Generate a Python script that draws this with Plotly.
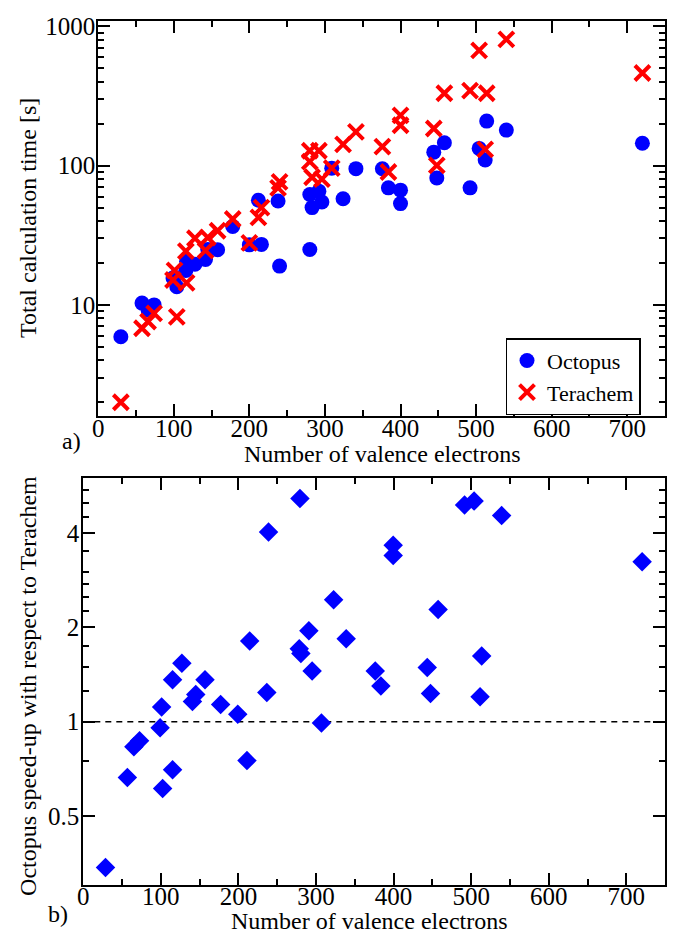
import plotly.graph_objects as go
import math

# ---------------- data ----------------
# Panel a) total calculation time [s] vs number of valence electrons
electrons = [30, 58, 66, 74, 99, 101, 104, 116, 117, 128, 142, 145, 158, 178, 200,
             212, 216, 238, 240, 280, 280, 283, 292, 296, 309, 324, 341, 376, 384,
             400, 400, 444, 448, 458, 492, 504, 512, 514, 540, 720]
octopus_time = [5.9, 10.3, 9.2, 10.0, 15.6, 15.8, 13.5, 17.7, 20.6, 19.6, 21.2, 25.0, 24.9,
                36.6, 27.0, 56.5, 27.2, 55.7, 19.0, 25.0, 62.0, 50.0, 65.6, 54.8, 96.0,
                57.9, 95.2, 95.0, 69.3, 66.7, 53.4, 125.0, 81.7, 146.0, 69.3, 133.0,
                110.0, 209.0, 180.0, 145.0]
terachem_time = [2.0, 6.8, 7.6, 8.7, 15.1, 17.7, 8.2, 24.3, 14.4, 30.1, 24.6, 30.5, 34.1,
                 41.4, 27.9, 42.5, 50.0, 69.3, 76.5, 128.0, 107.0, 82.6, 128.0, 80.0, 96.0,
                 142.0, 175.0, 137.0, 90.0, 230.0, 195.0, 185.0, 100.5, 331.0, 346.0,
                 673.0, 131.0, 331.0, 808.0, 463.0]

# Panel b) speed-up of Octopus with respect to Terachem
speedup_x = [28.6, 56.8, 65.2, 72.5, 99.0, 101.0, 102.3, 115.1, 115.1, 127.1, 140.7, 145.0,
             156.9, 177.0, 199.1, 211.0, 214.5, 236.6, 238.8, 279.3, 278.4, 280.5, 290.8,
             295.0, 307.0, 322.7, 338.9, 376.4, 383.6, 399.5, 399.5, 443.4, 447.6, 457.4,
             491.5, 503.8, 511.5, 513.6, 539.3, 720.4]
speedup = [0.342, 0.663, 0.832, 0.869, 0.957, 1.113, 0.612, 1.36, 0.702, 1.536, 1.16, 1.22,
           1.36, 1.135, 1.055, 0.751, 1.81, 1.24, 4.03, 5.16, 1.71, 1.65, 1.95, 1.45, 0.99,
           2.45, 1.84, 1.45, 1.30, 3.66, 3.39, 1.49, 1.23, 2.28, 4.92, 5.06, 1.20, 1.62,
           4.55, 3.24]

x_ticks = [0, 100, 200, 300, 400, 500, 600, 700]
x_minor = [50, 150, 250, 350, 450, 550, 650, 750]
ya_ticks = [1, 10, 100, 1000]
ya_minor = [m * d for d in (1, 10, 100) for m in range(2, 10)]
yb_ticks = [0.5, 1, 2, 4]
yb_ticklabels = ["0.5", "1", "2", "4"]
yb_minor = [0.75, 1.25, 1.5, 1.75, 2.25, 2.5, 2.75, 3, 3.5, 4.5, 5, 5.5]
x_range = [0, 750]
ya_range = [1.58, 1096]
yb_range = [0.3, 6]
unity = [1, 1]

FONT = "Liberation Serif, Times New Roman, serif"
FS = 24      # titles
TFS = 25     # tick labels
W, H = 673, 935

fig = go.Figure()
fig.add_trace(go.Scatter(x=electrons, y=octopus_time, mode="markers", name="Octopus",
                         marker=dict(symbol="circle", size=15, color="#0000ff"),
                         xaxis="x", yaxis="y"))
fig.add_trace(go.Scatter(x=electrons, y=terachem_time, mode="markers", name="Terachem",
                         marker=dict(symbol="x-thin-open", size=15,
                                     line=dict(color="#ff0000", width=4), color="#ff0000"),
                         xaxis="x", yaxis="y"))
fig.add_trace(go.Scatter(x=x_range, y=unity, mode="lines", showlegend=False,
                         line=dict(color="black", width=1.5, dash="6px,5px"),
                         xaxis="x2", yaxis="y2", hoverinfo="skip"))
fig.add_trace(go.Scatter(x=speedup_x, y=speedup, mode="markers", showlegend=False,
                         marker=dict(symbol="diamond", size=15, color="#0000ff"),
                         xaxis="x2", yaxis="y2"))


def axis_common():
    return dict(showline=True, linecolor="black", linewidth=2, mirror="allticks",
                ticks="inside", ticklen=12, tickwidth=1.5, tickcolor="black",
                showgrid=False, zeroline=False,
                tickfont=dict(family=FONT, size=TFS, color="black"))


def px_x(p):
    return p / W


def px_y(p):
    return 1 - p / H


def minor(vals):
    return dict(tickmode="array", tickvals=vals, ticks="inside", ticklen=6,
                tickwidth=1.5, tickcolor="black", showgrid=False)


xa = axis_common()
xa.update(domain=[px_x(93), px_x(665)], range=x_range, anchor="y",
          tickmode="array", tickvals=x_ticks, ticklabelstandoff=-11, minor=minor(x_minor))
ya = axis_common()
ya.update(domain=[px_y(412), px_y(13)], type="log",
          range=[math.log10(ya_range[0]), math.log10(ya_range[1])], anchor="x",
          tickmode="array", tickvals=ya_ticks, ticktext=[str(v) for v in ya_ticks],
          ticklabelstandoff=-4, minor=minor(ya_minor))
xb = axis_common()
xb.update(domain=[px_x(78), px_x(665)], range=x_range, anchor="y2",
          tickmode="array", tickvals=x_ticks, ticklabelstandoff=-12, minor=minor(x_minor))
yb = axis_common()
yb.update(domain=[px_y(885), px_y(474)], type="log",
          range=[math.log10(yb_range[0]), math.log10(yb_range[1])], anchor="x2",
          tickmode="array", tickvals=yb_ticks, ticktext=yb_ticklabels,
          ticklabelstandoff=-3, minor=minor(yb_minor))

annotations = [
    dict(text="Total calculation time [s]", x=px_x(22), y=px_y(212), textangle=-90),
    dict(text="Octopus speed-up with respect to Terachem", x=px_x(22), y=px_y(684),
         textangle=-90),
    dict(text="Number of valence electrons", x=px_x(380), y=px_y(450)),
    dict(text="Number of valence electrons", x=px_x(367), y=px_y(921)),
    dict(text="a)", x=px_x(66), y=px_y(437)),
    dict(text="b)", x=px_x(52), y=px_y(914)),
]
for a in annotations:
    a.update(xref="paper", yref="paper", showarrow=False, xanchor="center",
             yanchor="middle", font=dict(family=FONT, size=FS, color="black"))

fig.update_layout(
    width=W, height=H, autosize=False,
    margin=dict(l=0, r=0, t=0, b=0),
    paper_bgcolor="white", plot_bgcolor="white",
    xaxis=xa, yaxis=ya, xaxis2=xb, yaxis2=yb,
    annotations=annotations,
    legend=dict(x=px_x(504), y=px_y(333), xanchor="left", yanchor="top",
                bordercolor="black", borderwidth=1.5, bgcolor="white",
                font=dict(family=FONT, size=22, color="black"),
                itemwidth=30, tracegroupgap=0),
    font=dict(family=FONT, size=FS, color="black"),
)

fig.write_html("out.html")
